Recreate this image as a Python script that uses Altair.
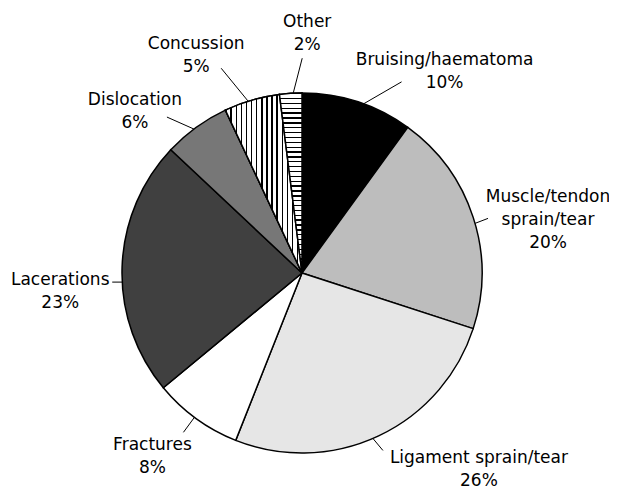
import math
import altair as alt
import pandas as pd

# ---------------- data ----------------
categories = ["Bruising/haematoma", "Muscle/tendon sprain/tear", "Ligament sprain/tear",
              "Fractures", "Lacerations", "Dislocation", "Concussion", "Other"]
percentages = [10, 20, 26, 8, 23, 6, 5, 2]
label_names = ["Bruising/haematoma", "Muscle/tendon\nsprain/tear", "Ligament sprain/tear",
               "Fractures", "Lacerations", "Dislocation", "Concussion", "Other"]

# ---------------- style / layout ----------------
fill_colors = ["#000000", "#bdbdbd", "#e6e6e6", "#ffffff", "#404040", "#777777", "#ffffff", "#ffffff"]
# small angular shift (degrees) of each leader's start along the rim
leader_nudge = [2.0, 2.0, 2.0, 0.7, -4.7, -0.9, -1.2, 0.8]
# leader line end offset from its start on the rim, px
leader_dx = [38, 13, 10, -11, -10, -27, -27, 9]
leader_dy = [-22, -5, 12, 15, 0, -12, -33, -35]
# text anchor (centre, first baseline) offset from the leader start, px
label_dx = [81, 73, 106, -42, -62, -59, -52, 14]
label_dy = [-39, -21, 25, 33, 3, -24, -52, -66]

W, H = 601, 482
CX, CY, R = 294, 265, 180
FONT = "DejaVu Sans"


def stripes(n, frac, vertical):
    stops = []
    for i in range(n):
        s = i / n
        e = (i + frac) / n
        stops += [
            {"offset": s, "color": "black"},
            {"offset": e, "color": "black"},
            {"offset": e, "color": "white"},
            {"offset": (i + 1) / n, "color": "white"},
        ]
    g = {"gradient": "linear", "stops": stops, "x1": 0, "y1": 0}
    if vertical:
        g.update({"x2": 1, "y2": 0})
    else:
        g.update({"x2": 0, "y2": 1})
    return g


vertical_stripes = stripes(15, 0.28, True)
horizontal_stripes = stripes(37, 0.28, False)

df = pd.DataFrame({
    "category": categories,
    "pct": percentages,
    "order": list(range(len(categories))),
    "label": [f"{n}\n{p}%" for n, p in zip(label_names, percentages)],
    "nudge": leader_nudge,
    "ldx": leader_dx, "ldy": leader_dy,
    "tdx": label_dx, "tdy": label_dy,
})

base = alt.Chart(df).transform_stack(
    stack="pct", groupby=[], as_=["start", "end"],
    sort=[alt.SortField("order", order="ascending")]
)

theta_scale = alt.Scale(domain=[0, 100], range=[0, 2 * math.pi])

arc_enc = dict(
    theta=alt.Theta("start:Q", scale=theta_scale),
    theta2="end:Q",
    x=alt.value(CX),
    y=alt.value(CY),
)

arcs = base.mark_arc(outerRadius=R, stroke="black", strokeWidth=1.5).encode(
    fill=alt.Fill("category:N", scale=alt.Scale(domain=categories, range=fill_colors), legend=None),
    **arc_enc,
)

conc = base.transform_filter(alt.datum.category == "Concussion").mark_arc(
    outerRadius=R, stroke="black", strokeWidth=1.5, fill=vertical_stripes
).encode(**arc_enc)

other = base.transform_filter(alt.datum.category == "Other").mark_arc(
    outerRadius=R, stroke="black", strokeWidth=1.5, fill=horizontal_stripes
).encode(**arc_enc)

geo = base.transform_calculate(
    mid="(datum.start + datum.end) / 2 * 2 * PI / 100 + datum.nudge * PI / 180"
).transform_calculate(
    ex=f"{CX} + {R} * sin(datum.mid)",
    ey=f"{CY} - {R} * cos(datum.mid)",
).transform_calculate(
    lx="datum.ex + datum.ldx",
    ly="datum.ey + datum.ldy",
    tx="datum.ex + datum.tdx",
    ty="datum.ey + datum.tdy",
)

rules = geo.mark_rule(color="black", strokeWidth=1).encode(
    x=alt.X("ex:Q", scale=None),
    y=alt.Y("ey:Q", scale=None),
    x2="lx:Q",
    y2="ly:Q",
)

texts = geo.mark_text(
    font=FONT, fontSize=17, lineBreak="\n", lineHeight=23,
    align="center", baseline="alphabetic", color="black"
).encode(
    x=alt.X("tx:Q", scale=None),
    y=alt.Y("ty:Q", scale=None),
    text="label:N",
)

chart = alt.layer(arcs, conc, other, rules, texts).properties(
    width=W, height=H, padding=0, autosize="none"
).configure_view(stroke=None)

chart.save("out.html", embed_options={"renderer": "svg", "actions": False})
